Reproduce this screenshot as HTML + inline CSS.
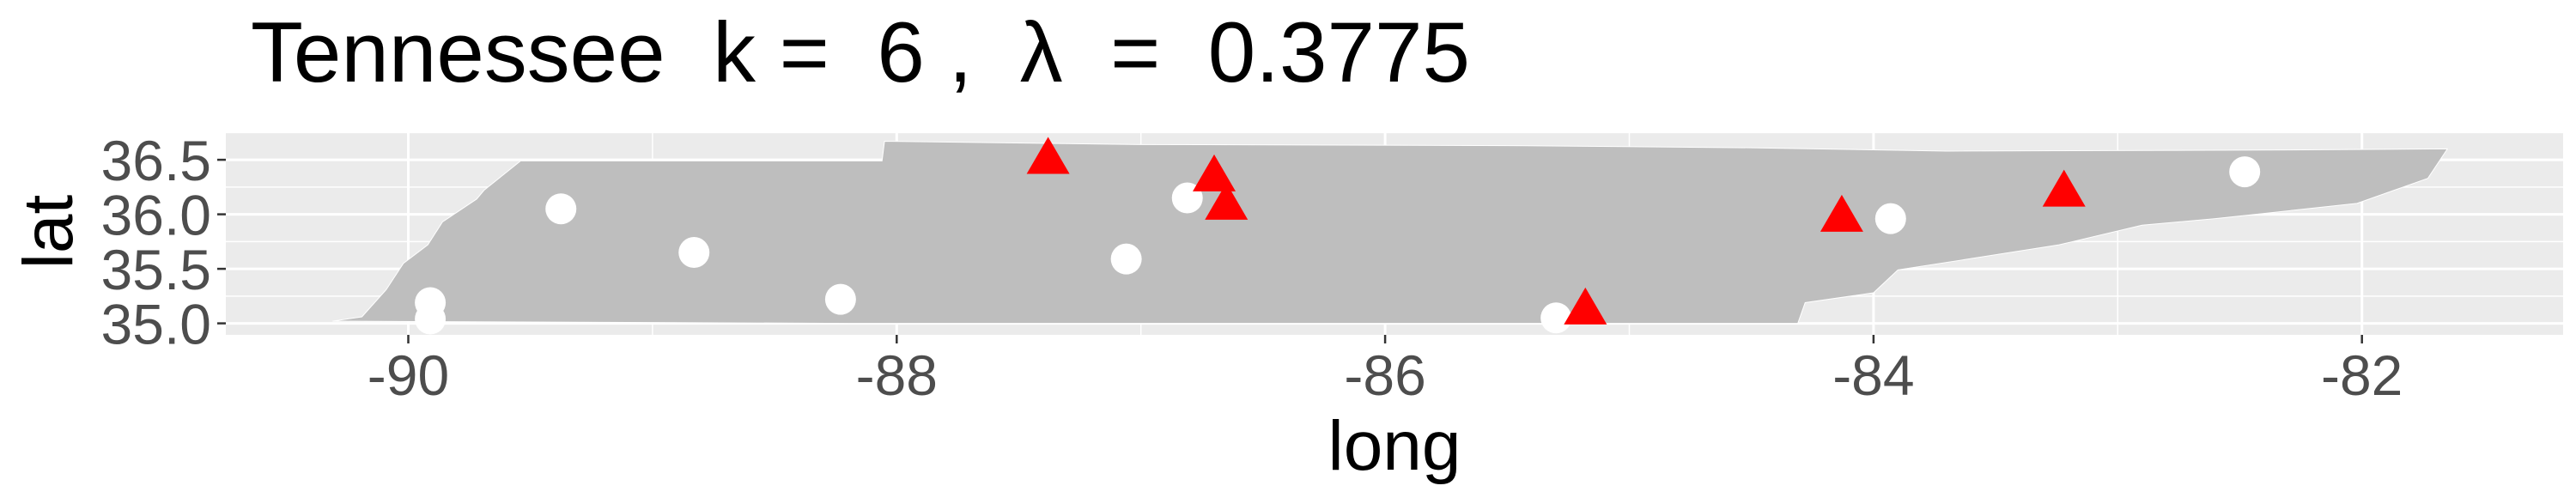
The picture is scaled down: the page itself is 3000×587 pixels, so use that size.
<!DOCTYPE html>
<html><head><meta charset="utf-8"><style>
html,body{margin:0;padding:0;background:#fff;}
svg{display:block;font-family:"Liberation Sans",Arial,sans-serif;}
</style></head><body>
<svg id="chart" width="3000" height="587" viewBox="0 0 3000 587" xmlns="http://www.w3.org/2000/svg">
<defs><clipPath id="pc"><rect x="263" y="154" width="2722" height="236"/></clipPath></defs>
<rect x="263" y="154" width="2722" height="236" fill="#ebebeb"/>
<g id="grid"></g>
<g id="map" clip-path="url(#pc)"></g>
<g id="pts" clip-path="url(#pc)"></g>
<g id="axes"></g>
<text x="292" y="95" font-size="99" fill="#000" textLength="1420" lengthAdjust="spacingAndGlyphs" xml:space="preserve">Tennessee  k =  6 ,  λ  =  0.3775</text>
<text x="1624" y="547" font-size="82" text-anchor="middle" fill="#000">long</text>
<text transform="translate(84,270) rotate(-90)" font-size="82" text-anchor="middle" fill="#000">lat</text>
</svg>
<script>
const xTicks = [-90, -88, -86, -84, -82];
const yTicks = [35.0, 35.5, 36.0, 36.5];
const yTickLabels = ["35.0", "35.5", "36.0", "36.5"];
const xMinor = [-91, -89, -87, -85, -83, -81];
const yMinor = [34.75, 35.25, 35.75, 36.25, 36.75];
const borderLon = [-90.31,-90.19,-90.09,-90.02,-89.92,-89.86,-89.72,-89.69,-89.54,-88.06,-88.05,-87.0,-85.5,-84.5,-83.7,-82.3,-81.65,-81.73,-82.02,-82.6,-82.9,-83.24,-83.64,-83.9,-84.0,-84.28,-84.31,-88.2,-90.31];
const borderLat = [35.02,35.06,35.31,35.55,35.72,35.93,36.14,36.22,36.49,36.49,36.67,36.64,36.63,36.61,36.58,36.59,36.6,36.33,36.1,35.96,35.9,35.72,35.58,35.49,35.28,35.19,35.0,35.0,35.02];
const centerLon = [-89.375,-88.83,-88.23,-89.91,-89.91,-87.06,-86.81,-85.30,-83.93,-82.48];
const centerLat = [36.05,35.65,35.22,35.19,35.04,35.59,36.15,35.05,35.96,36.39];
const triLon = [-87.38,-86.70,-86.65,-84.13,-83.22,-85.18];
const triLat = [36.52,36.36,36.10,35.99,36.22,35.14];

const NS="http://www.w3.org/2000/svg";
const X = lon => 475.5 + (lon + 90) * 284.4;
const Y = lat => 376.6 - (lat - 35) * 127;
function mk(tag, parent, attrs){const e=document.createElementNS(NS,tag);for(const k in attrs)e.setAttribute(k,attrs[k]);parent.appendChild(e);return e;}
const grid=document.getElementById('grid');
xMinor.forEach(v=>{const l=mk('line',grid,{x1:X(v),x2:X(v),y1:154,y2:390,stroke:'#fff','stroke-width':1.5});

});
yMinor.forEach(v=>{const l=mk('line',grid,{x1:263,x2:2985,y1:Y(v),y2:Y(v),stroke:'#fff','stroke-width':1.5});

});
xTicks.forEach(v=>{const l=mk('line',grid,{x1:X(v),x2:X(v),y1:154,y2:390,stroke:'#fff','stroke-width':3});

});
yTicks.forEach(v=>{const l=mk('line',grid,{x1:263,x2:2985,y1:Y(v),y2:Y(v),stroke:'#fff','stroke-width':3});

});
const map=document.getElementById('map');
const poly=mk('polygon',map,{points:borderLon.map((v,i)=>X(v)+','+Y(borderLat[i])).join(' '),fill:'#bebebe',stroke:'#fff','stroke-width':1});


const pts=document.getElementById('pts');
centerLon.forEach((v,i)=>{const c=mk('circle',pts,{cx:X(v),cy:Y(centerLat[i]),r:18,fill:'#fff'});

});
triLon.forEach((v,i)=>{const cx=X(v),cy=Y(triLat[i]);
const t=mk('polygon',pts,{points:`${cx},${cy-24} ${cx-25},${cy+19} ${cx+25},${cy+19}`,fill:'#ff0000'});

});
const axes=document.getElementById('axes');
xTicks.forEach(v=>{const x=X(v);
const tk=mk('line',axes,{x1:x,x2:x,y1:390,y2:400,stroke:'#333','stroke-width':2.5});


const tx=mk('text',axes,{x:x,y:460,'font-size':66,'text-anchor':'middle',fill:'#4d4d4d'});tx.textContent=String(v);

});
yTicks.forEach((v,i)=>{const y=Y(v);
const tk=mk('line',axes,{x1:253,x2:263,y1:y,y2:y,stroke:'#333','stroke-width':2.5});


const tx=mk('text',axes,{x:246,y:y+24,'font-size':66,'text-anchor':'end',fill:'#4d4d4d'});tx.textContent=yTickLabels[i];

});
</script>
</body></html>
